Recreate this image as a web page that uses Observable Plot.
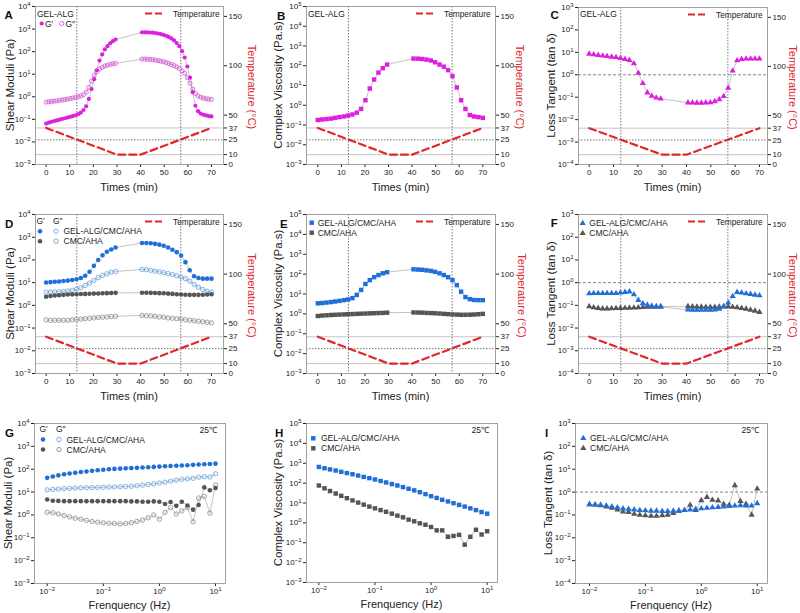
<!DOCTYPE html>
<html><head><meta charset="utf-8">
<script src="https://cdn.jsdelivr.net/npm/d3@7"></script>
<script src="https://cdn.jsdelivr.net/npm/@observablehq/plot@0.6"></script>
<style>
body{margin:0;background:#fff;}
#root{position:relative;width:800px;height:613px;overflow:hidden;background:#fff;}
</style></head>
<body><div id="root"></div>
<script>
// ---------------- DATA ----------------
const timeTicks = [0,10,20,30,40,50,60,70];
const markTimes = [13,57];
const tempTimes = [0,30,40,70];
const tempValues = [37,10,10,37];
const tempTicks = [0,10,25,37,50,100,150];
const tempSolid = [37,10];
const tempDotted = [25];
const unityLine = [1];

// time grids (A: denser sampling; B-F: 17 points per segment)
const tA = [0,1.13,2.26,3.39,4.52,5.65,6.78,7.91,9.04,10.17,11.3,12.43,13.56,14.69,15.82,16.95,18.08,19.21,20.34,21.47,22.6,23.73,24.86,25.99,27.12,28.25,29.38,
            40.6,41.73,42.86,43.99,45.12,46.25,47.38,48.51,49.64,50.77,51.9,53.03,54.16,55.29,56.42,57.55,58.68,59.81,60.94,62.07,63.2,64.33,65.46,66.59,67.72,68.85,69.98];
const t17 = [0,1.84,3.68,5.51,7.35,9.19,11.03,12.86,14.7,16.54,18.38,20.21,22.05,23.89,25.73,27.56,29.4,
             40.6,42.44,44.28,46.11,47.95,49.79,51.63,53.46,55.3,57.14,58.98,60.81,62.65,64.49,66.33,68.16,70];

// A: GEL-ALG shear moduli
const A_Gp = [0.065,0.072,0.078,0.084,0.09,0.097,0.104,0.112,0.12,0.13,0.14,0.152,0.17,0.2,0.26,0.38,0.8,2.2,6,15,40,75,125,175,235,290,345,
              720,720,715,705,690,665,635,600,555,505,450,385,315,240,175,105,55,22,7,1.6,0.4,0.23,0.18,0.16,0.15,0.14,0.135];
const A_Gpp = [0.58,0.6,0.62,0.64,0.66,0.69,0.72,0.75,0.79,0.83,0.88,0.93,1.0,1.1,1.25,1.6,2.6,5,9,13,17,20,23,25,27,29,30,
               47,47,46,45,44,42,40,38,36,33,30,27,24,21,18,14,11,7,4,2.2,1.4,1.1,0.95,0.87,0.82,0.79,0.76];
// B: GEL-ALG complex viscosity
const B_eta = [0.18,0.19,0.2,0.21,0.23,0.25,0.27,0.3,0.34,0.42,0.65,1.8,7,20,45,75,115,
               230,228,220,205,185,150,115,90,60,30,8,1.8,0.65,0.32,0.27,0.25,0.23];
// C: GEL-ALG loss tangent
const C_tan = [8.5,8,7.5,7,6.7,6.3,6,5.5,5,4.5,3.2,1.2,0.42,0.16,0.115,0.095,0.085,
               0.057,0.057,0.056,0.056,0.057,0.058,0.065,0.08,0.11,0.26,1.5,4.3,5.0,5.2,5.2,5.2,5.2];
// D: shear moduli of composite / CMC-AHA
const D_blueGp = [10.2,10.5,11,11.3,11.8,12.3,13,14,16,20,30,55,100,160,230,290,350,
                  560,555,540,510,470,420,350,280,220,155,80,35,19,16,15,15,15];
const D_blueGpp = [3.8,3.8,3.9,4.0,4.1,4.3,4.6,5.2,6.0,7.5,9.6,12.6,16.5,21,24.5,29,31,
                   38,37,35,32,30,27.5,25,22.5,20,17.5,15,11.7,8.4,6.3,5,4.2,3.8];
const D_grayGp = [2.4,2.6,2.7,2.8,2.9,3.0,3.05,3.1,3.15,3.2,3.25,3.3,3.35,3.4,3.45,3.5,3.55,
                  3.6,3.6,3.55,3.5,3.45,3.4,3.3,3.2,3.1,3.0,2.95,2.9,2.9,2.9,2.95,3.0,3.1];
const D_grayGpp = [0.23,0.22,0.22,0.22,0.22,0.22,0.23,0.24,0.25,0.26,0.27,0.28,0.29,0.3,0.31,0.32,0.33,
                   0.36,0.35,0.34,0.33,0.31,0.3,0.28,0.27,0.26,0.25,0.23,0.22,0.21,0.2,0.19,0.18,0.17];
// E: complex viscosity
const E_blue = [3.4,3.5,3.7,3.9,4.2,4.5,4.9,5.3,6.2,9,16,32,50,70,90,110,125,
                175,170,165,155,145,130,110,90,70,50,28,13,7,5.5,5.0,4.9,4.9];
const E_gray = [0.78,0.82,0.85,0.88,0.9,0.92,0.94,0.96,0.98,1.0,1.02,1.04,1.06,1.08,1.1,1.12,1.15,
                1.18,1.17,1.15,1.12,1.1,1.07,1.04,1.0,0.97,0.94,0.92,0.9,0.9,0.91,0.93,0.96,1.0];
// F: loss tangent
const F_blue = [0.33,0.34,0.34,0.34,0.34,0.34,0.34,0.36,0.38,0.4,0.3,0.17,0.12,0.105,0.095,0.088,0.085,
                0.065,0.063,0.062,0.062,0.062,0.063,0.065,0.07,0.09,0.13,0.25,0.38,0.36,0.33,0.31,0.29,0.27];
const F_gray = [0.09,0.08,0.075,0.072,0.072,0.073,0.074,0.075,0.076,0.077,0.078,0.08,0.082,0.084,0.086,0.088,0.09,
                0.09,0.088,0.087,0.086,0.085,0.085,0.085,0.086,0.087,0.088,0.085,0.08,0.075,0.07,0.063,0.057,0.05];

// frequency sweep (25 C)
const freq = [0.01,0.0126,0.0158,0.02,0.0251,0.0316,0.0398,0.0501,0.0631,0.0794,0.1,0.126,0.158,0.2,0.251,0.316,0.398,0.501,0.631,0.794,1,1.26,1.58,2,2.51,3.16,3.98,5.01,6.31,7.94,10];
const G_blueGp = [42,48,54,60,65,70,75,80,85,90,95,99,103,106,109,112,115,118,122,126,130,134,138,142,146,150,155,160,165,170,175];
const G_blueGpp = [12.5,13,13.5,14,14.5,15,15.3,15.6,15.8,16,16.2,16.4,16.7,17,17.5,18,19,20,21.5,23,25,27,30,33,36,38,40,45,47,46,63];
const G_grayGp = [4.7,4.2,4.1,4.0,4.0,4.0,4.0,4.0,4.0,4.0,4.0,4.0,4.0,4.0,4.0,3.9,3.9,3.8,3.8,3.9,3.8,3.0,3.7,2.5,3.8,2.6,1.7,2.7,16,12,15];
const G_grayGpp = [1.3,1.25,1.1,0.95,0.82,0.72,0.65,0.58,0.52,0.48,0.45,0.43,0.42,0.4,0.42,0.46,0.52,0.6,0.75,1.0,0.65,1.3,2.1,1.1,1.5,2.1,0.5,5.5,6.5,1.2,20];
const H_blue = [650,560,490,430,370,320,280,240,205,178,153,128,108,90,76,63,52,43,35,28,22,18,14.5,12,9.8,8,6.6,5.4,4.4,3.5,2.9];
const H_gray = [76,55,40,30,23,17.5,13.5,10.5,8.3,6.6,5.4,4.4,3.6,2.9,2.3,1.9,1.45,1.2,0.95,0.8,0.62,0.42,0.42,0.2,0.22,0.25,0.08,0.2,0.45,0.26,0.38];
const I_blue = [0.29,0.28,0.27,0.25,0.23,0.21,0.19,0.18,0.17,0.16,0.155,0.15,0.15,0.145,0.145,0.15,0.15,0.16,0.17,0.18,0.19,0.2,0.21,0.22,0.23,0.24,0.25,0.26,0.25,0.25,0.32];
const I_gray = [0.29,0.28,0.26,0.23,0.2,0.17,0.14,0.13,0.11,0.1,0.095,0.09,0.09,0.095,0.1,0.12,0.15,0.16,0.27,0.16,0.43,0.6,0.45,0.42,0.3,0.27,1.95,0.4,0.3,0.1,1.4];

const freqTickExps = [-2,-1,0,1];
const expsModuli = [-3,-2,-1,0,1,2,3,4];
const expsVisc = [-3,-2,-1,0,1,2,3,4,5];
const expsTan = [-4,-3,-2,-1,0,1,2,3];

// ---------------- STYLE / LAYOUT ----------------
const FONT = '"Liberation Sans", Arial, Helvetica, sans-serif';
const RED = "#e3262c", MAG = "#df1fdf", MAG_O = "#d452d4";
const BLUE = "#1f6fd8", BLUE_O = "#5f9ee8", GRAY = "#555555", GRAY_O = "#8a8a8a", LINE = "#9c9c9c";
const M = 30;
const frames = {
  A:[35,6,188,158], B:[306,6,189,158], C:[578,7,189,157],
  D:[35,214,188,159], E:[306,214,189,159], F:[578,214,189,159],
  G:[34,423,191,160], H:[306,423,191,159], I:[575,423,192,160]
};
const root = document.getElementById("root");
const rows = (xs, vs) => xs.map((x, i) => ({x, v: vs[i]}));
const pow = e => Math.pow(10, e);
const fmtPow = d => "10^" + Math.round(Math.log10(d));

function common(fw, fh) {
  return {width: fw + 2*M, height: fh + 2*M, marginLeft: M, marginRight: M, marginTop: M, marginBottom: M,
    style: {background: "transparent", fontFamily: FONT, fontSize: "8px", color: "#222", overflow: "visible"}};
}
function place(svg, fx, fy) {
  svg.style.position = "absolute";
  svg.style.left = (fx - M) + "px";
  svg.style.top = (fy - M) + "px";
  root.appendChild(svg);
}
function supers(svg) {
  d3.select(svg).selectAll("text").each(function() {
    const m = /^10\^(-?\d+)$/.exec(this.textContent);
    if (!m) return;
    const el = d3.select(this);
    el.text(null);
    el.append("tspan").text("10");
    el.append("tspan").attr("dy", "-0.5em").attr("font-size", "6px").text(m[1].replace("-", "\u2212"));
  });
}
function seriesMarks(list) {
  const lines = [], dots = [];
  for (const s of list) {
    const d = rows(s.x, s.v);
    lines.push(Plot.line(d, {x: "x", y: "v", stroke: LINE, strokeWidth: 0.6}));
    dots.push(Plot.dot(d, {x: "x", y: "v", symbol: s.symbol, r: s.r,
      fill: s.filled ? s.color : "none", stroke: s.filled ? "none" : s.color, strokeWidth: 0.8}));
  }
  return [...lines, ...dots];
}

function timePanel(key, xDomain, exps, series, unity) {
  const [fx, fy, fw, fh] = frames[key];
  const temp = Plot.plot({...common(fw, fh),
    x: {domain: xDomain, axis: null},
    y: {domain: [0, 160], axis: "right", ticks: tempTicks, tickSize: 3, tickPadding: 2, label: null},
    marks: [
      Plot.ruleY(tempSolid, {stroke: "#b8b8b8", strokeWidth: 0.8}),
      Plot.ruleY(tempDotted, {stroke: "#555", strokeWidth: 0.8, strokeDasharray: "1.5,1.5"}),
      Plot.line(rows(tempTimes, tempValues), {x: "x", y: "v", stroke: RED, strokeWidth: 2.2, strokeDasharray: "7,4"})
    ]});
  const base = Plot.plot({...common(fw, fh),
    x: {domain: xDomain, ticks: timeTicks, tickSize: 3, tickPadding: 2, label: null},
    y: {type: "log", domain: [pow(exps[0]), pow(exps[exps.length-1])], ticks: exps.map(pow), tickFormat: fmtPow, tickSize: 3, tickPadding: 2, label: null},
    marks: [
      Plot.ruleX(markTimes, {stroke: "#555", strokeWidth: 0.8, strokeDasharray: "1.5,1.5"}),
      ...(unity ? [Plot.ruleY(unityLine, {stroke: "#666", strokeWidth: 0.8, strokeDasharray: "3,2"})] : []),
      ...seriesMarks(series),
      Plot.frame({stroke: "#8a8a8a", strokeWidth: 0.8})
    ]});
  place(temp, fx, fy);
  place(base, fx, fy);
  supers(base);
}
function freqPanel(key, xDomain, exps, series, unity) {
  const [fx, fy, fw, fh] = frames[key];
  const base = Plot.plot({...common(fw, fh),
    x: {type: "log", domain: xDomain, ticks: freqTickExps.map(pow), tickFormat: fmtPow, tickSize: 3, tickPadding: 2, label: null},
    y: {type: "log", domain: [pow(exps[0]), pow(exps[exps.length-1])], ticks: exps.map(pow), tickFormat: fmtPow, tickSize: 3, tickPadding: 2, label: null},
    marks: [
      ...(unity ? [Plot.ruleY(unityLine, {stroke: "#666", strokeWidth: 0.8, strokeDasharray: "3,2"})] : []),
      ...seriesMarks(series),
      Plot.frame({stroke: "#8a8a8a", strokeWidth: 0.8})
    ]});
  place(base, fx, fy);
  supers(base);
}

const xdAD = [-4.5, 75.1], xdBE = [-4.8, 75.4], xdCF = [-4.4, 73.3];
const ci = d3.symbolCircle, sq = d3.symbolSquare, tr = d3.symbolTriangle;

timePanel("A", xdAD, expsModuli, [
  {x: tA, v: A_Gpp, symbol: ci, r: 2.1, color: MAG_O, filled: false},
  {x: tA, v: A_Gp, symbol: ci, r: 2.1, color: MAG, filled: true}]);
timePanel("B", xdBE, expsVisc, [
  {x: t17, v: B_eta, symbol: sq, r: 2.5, color: MAG, filled: true}]);
timePanel("C", xdCF, expsTan, [
  {x: t17, v: C_tan, symbol: tr, r: 2.3, color: MAG, filled: true}], true);
timePanel("D", xdAD, expsModuli, [
  {x: t17, v: D_blueGpp, symbol: ci, r: 2.2, color: BLUE_O, filled: false},
  {x: t17, v: D_grayGpp, symbol: ci, r: 2.2, color: GRAY_O, filled: false},
  {x: t17, v: D_blueGp, symbol: ci, r: 2.3, color: BLUE, filled: true},
  {x: t17, v: D_grayGp, symbol: ci, r: 2.3, color: GRAY, filled: true}]);
timePanel("E", xdBE, expsVisc, [
  {x: t17, v: E_blue, symbol: sq, r: 2.5, color: BLUE, filled: true},
  {x: t17, v: E_gray, symbol: sq, r: 2.5, color: GRAY, filled: true}]);
timePanel("F", xdCF, expsTan, [
  {x: t17, v: F_gray, symbol: tr, r: 2.3, color: GRAY, filled: true},
  {x: t17, v: F_blue, symbol: tr, r: 2.3, color: BLUE, filled: true}], true);
freqPanel("G", [pow(-2.226), pow(1.178)], expsModuli, [
  {x: freq, v: G_blueGpp, symbol: ci, r: 2.2, color: BLUE_O, filled: false},
  {x: freq, v: G_grayGpp, symbol: ci, r: 2.2, color: GRAY_O, filled: false},
  {x: freq, v: G_blueGp, symbol: ci, r: 2.3, color: BLUE, filled: true},
  {x: freq, v: G_grayGp, symbol: ci, r: 2.3, color: GRAY, filled: true}]);
freqPanel("H", [pow(-2.22), pow(1.184)], expsVisc, [
  {x: freq, v: H_gray, symbol: sq, r: 2.5, color: GRAY, filled: true},
  {x: freq, v: H_blue, symbol: sq, r: 2.5, color: BLUE, filled: true}]);
freqPanel("I", [pow(-2.25), pow(1.184)], expsTan, [
  {x: freq, v: I_gray, symbol: tr, r: 2.3, color: GRAY, filled: true},
  {x: freq, v: I_blue, symbol: tr, r: 2.3, color: BLUE, filled: true}], true);

// ---------------- ANNOTATIONS ----------------
const ann = d3.create("svg").attr("width", 800).attr("height", 613)
  .style("position", "absolute").style("left", "0px").style("top", "0px").style("font-family", FONT);
function txt(x, y, s, o = {}) {
  const t = ann.append("text").attr("x", x).attr("y", y).text(s)
    .attr("font-size", o.size || 8.5).attr("fill", o.fill || "#222");
  if (o.anchor) t.attr("text-anchor", o.anchor);
  if (o.weight) t.attr("font-weight", o.weight);
  return t;
}
function rtxt(cx, cy, s, angle, o = {}) {
  ann.append("text").attr("transform", `translate(${cx},${cy}) rotate(${angle})`)
    .attr("text-anchor", "middle").attr("dy", "0.35em").attr("font-size", o.size || 11.5)
    .attr("fill", o.fill || "#222").text(s);
}
function sym(x, y, type, r, color, filled) {
  ann.append("path").attr("transform", `translate(${x},${y})`)
    .attr("d", d3.symbol().type(type).size(Math.PI * r * r)())
    .attr("fill", filled ? color : "none").attr("stroke", filled ? "none" : color).attr("stroke-width", 0.8);
}
function tempLegend(key) {
  const [fx, fy] = frames[key];
  ann.append("line").attr("x1", fx + 110).attr("x2", fx + 129).attr("y1", fy + 7.5).attr("y2", fy + 7.5)
    .attr("stroke", RED).attr("stroke-width", 2.2).attr("stroke-dasharray", "7,3");
  txt(fx + 138, fy + 10.5, "Temperature", {size: 8.3});
}
const letters = {A:[-30.5,13], B:[-29,14], C:[-27.5,12], D:[-30,14], E:[-26,13.5], F:[-27.3,13.3], G:[-29,13.7], H:[-31,13.7], I:[-30,13.7]};
for (const k in letters) { const [fx, fy] = frames[k]; txt(fx + letters[k][0], fy + letters[k][1], k, {size: 11.5, weight: "bold", fill: "#111"}); }

const yTitles = {A:["Shear Moduli (Pa)",-25], B:["Complex Viscosity (Pa.s)",-28], C:["Loss Tangent (tan \u03b4)",-27],
  D:["Shear Moduli (Pa)",-25], E:["Complex Viscosity (Pa.s)",-28], F:["Loss Tangent (tan \u03b4)",-27],
  G:["Shear Moduli (Pa)",-26], H:["Complex Viscosity (Pa.s)",-28], I:["Loss Tangent (tan \u03b4)",-27]};
for (const k in yTitles) { const [fx, fy, fw, fh] = frames[k]; rtxt(fx + yTitles[k][1], fy + fh/2, yTitles[k][0], -90); }
const tTitles = {A:28.7, B:25, C:26, D:28.7, E:26.5, F:26};
for (const k in tTitles) { const [fx, fy, fw, fh] = frames[k]; rtxt(fx + fw + tTitles[k], fy + fh/2 + 2, "Temperature (\u00b0C)", 90, {fill: RED, size: 11}); tempLegend(k); }
for (const k of ["A","B","C","D","E","F"]) { const [fx, fy, fw, fh] = frames[k]; txt(fx + fw/2, fy + fh + 26.5, "Times (min)", {size: 11, anchor: "middle"}); }
for (const k of ["G","H","I"]) { const [fx, fy, fw, fh] = frames[k]; txt(fx + fw/2, fy + fh + 26, "Frenquency (Hz)", {size: 11, anchor: "middle"}); txt(fx + fw - 8, fy + 10, "25\u2103", {size: 8.5, anchor: "end"}); }

// legends A-C
{ const [fx, fy] = frames.A; txt(fx + 2, fy + 10.5, "GEL-ALG");
  sym(fx + 6.7, fy + 17.5, ci, 2.1, MAG, true); txt(fx + 10, fy + 20.5, "G\u2032");
  sym(fx + 26.7, fy + 17.5, ci, 2.1, MAG_O, false); txt(fx + 30.5, fy + 20.5, "G\u2033"); }
{ const [fx, fy] = frames.B; txt(fx + 2, fy + 10.5, "GEL-ALG"); }
{ const [fx, fy] = frames.C; txt(fx + 2, fy + 10, "GEL-ALG"); }
// legend D and G (moduli)
function moduliLegend(key, ox, oy) {
  const [fx, fy] = frames[key];
  txt(fx + ox, fy + oy, "G\u2032"); txt(fx + ox + 16.5, fy + oy, "G\u2033");
  sym(fx + ox + 3.5, fy + oy + 7.5, ci, 2.3, BLUE, true); sym(fx + ox + 19.5, fy + oy + 7.5, ci, 2.2, BLUE_O, false);
  txt(fx + ox + 27, fy + oy + 10.5, "GEL-ALG/CMC/AHA");
  sym(fx + ox + 3.5, fy + oy + 17.5, ci, 2.3, GRAY, true); sym(fx + ox + 19.5, fy + oy + 17.5, ci, 2.2, GRAY_O, false);
  txt(fx + ox + 27, fy + oy + 20.5, "CMC/AHA");
}
moduliLegend("D", 1.5, 9.7);
moduliLegend("G", 5.5, 9);
function pairLegend(key, sx, sy, tx, type, r) {
  const [fx, fy] = frames[key];
  sym(fx + sx, fy + sy, type, r, BLUE, true); txt(fx + tx, fy + sy + 3, "GEL-ALG/CMC/AHA");
  sym(fx + sx, fy + sy + 10, type, r, GRAY, true); txt(fx + tx, fy + sy + 13, "CMC/AHA");
}
pairLegend("E", 5.7, 8.7, 11.7, sq, 2.5);
pairLegend("F", 4.7, 9.3, 11.3, tr, 2.3);
pairLegend("H", 7.3, 15.3, 15, sq, 2.5);
pairLegend("I", 8.3, 15.3, 15, tr, 2.3);

root.appendChild(ann.node());
</script>
</body></html>
